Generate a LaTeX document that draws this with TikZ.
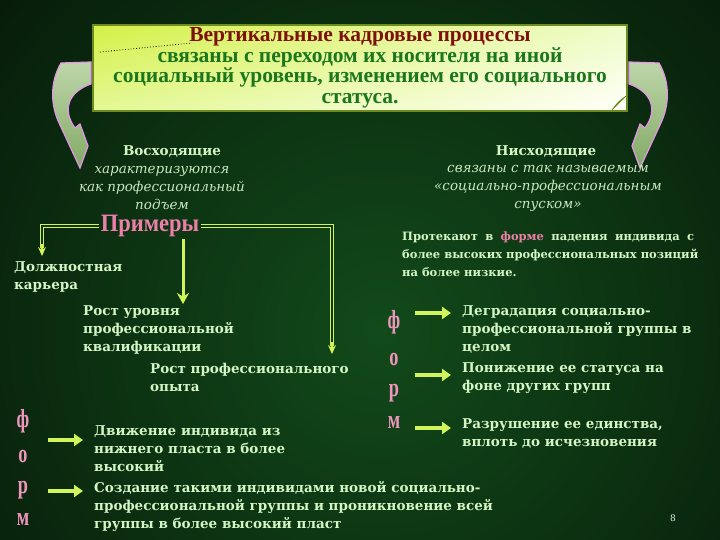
\documentclass[tikz,border=0pt]{standalone}
\usepackage{fontspec}
\usepackage{graphicx}
\setmainfont{DejaVu Serif}
\newfontfamily\ttlfont{Liberation Serif}
\usetikzlibrary{arrows.meta,calc,shadings}
\definecolor{bgmid}{RGB}{18,74,26}
\definecolor{bgline}{RGB}{14,52,18}
\definecolor{txt}{RGB}{212,245,196}
\definecolor{itx}{RGB}{200,232,190}
\definecolor{pinkc}{RGB}{236,128,170}
\definecolor{pinkl}{RGB}{240,150,190}
\definecolor{ylw}{RGB}{208,244,90}
\definecolor{boxborder}{RGB}{108,140,34}
\definecolor{ttlred}{RGB}{128,16,16}
\definecolor{ttlgreen}{RGB}{28,118,28}
\definecolor{arrtop}{RGB}{190,214,170}
\definecolor{arrbot}{RGB}{130,170,100}
\definecolor{arrline}{RGB}{228,150,232}
\definecolor{boxul}{RGB}{212,240,70}
\definecolor{boxur}{RGB}{238,252,200}
\definecolor{boxll}{RGB}{228,248,150}
\definecolor{boxlr}{RGB}{255,255,250}
\definecolor{fold}{RGB}{110,160,40}
\begin{document}
\begin{tikzpicture}[x=1pt,y=-1pt,
  body/.style={font=\bfseries\fontsize{13.5}{18}\selectfont, text=txt, align=left, inner sep=0pt, anchor=north west},
  ital/.style={font=\itshape\fontsize{13.5}{18}\selectfont, text=itx, align=center, inner sep=0pt},
  headtxt/.style={font=\bfseries\fontsize{13.5}{18}\selectfont, text=txt, inner sep=0pt},
  formletter/.style={font=\ttlfont\bfseries\fontsize{26}{26}\selectfont, text=pinkl, inner sep=0pt, anchor=base},
  formarrow/.style={draw=ylw, line width=4pt, -{Triangle[length=9pt,width=12pt]}},
  dbl/.style={draw=ylw, double=bgline, double distance=1.5pt, line width=0.8pt},
  vtip/.style={draw=ylw, line width=1.2pt, -{Stealth[length=9pt,width=8pt]}},
  titlebox/.style={draw=boxborder, line width=2.5pt, upper left=boxul, upper right=boxur, lower left=boxll, lower right=boxlr,
     minimum width=534pt, minimum height=86pt, inner sep=0pt, align=center,
     font=\ttlfont\bfseries\fontsize{21.5}{20.5}\selectfont, text=ttlgreen},
  curvarrow/.pic={\path[draw=arrline, line width=1.2pt, top color=arrtop, bottom color=arrbot]
     (91,62) -- (61,63) .. controls (50,82) and (50,105) .. (60,125) -- (80,168) -- (88,146) -- (80,124) -- (75,128)
     .. controls (62,110) and (68,92) .. (91,84) -- cycle;}
]
\useasboundingbox (0,0) rectangle (720,540);
\fill[black] (0,0) rectangle (720,540);
\begin{scope}
\clip (0,0) rectangle (720,540);
\shade[inner color=bgmid, outer color=black] (380,330) circle[radius=820pt];
\end{scope}

% curved arrows
\pic at (0,0) {curvarrow};
\pic[xscale=-1] at (720,0) {curvarrow};

% title box
\node[titlebox] (title) at (360,68) {{\color{ttlred}Вертикальные кадровые процессы}\\связаны с переходом их носителя на иной\\социальный уровень, изменением его социального\\статуса.};
\fill[fold, draw=boxborder, line width=0.6pt] (626,96) -- (612,110) .. controls (616,104) and (620,100) .. cycle;
\coordinate (dotA) at (100,52);
\coordinate (dotB) at (192,43);
\draw[black, dotted, line width=0.8pt] (dotA) -- (dotB);

% heads
\node[headtxt] (up) at (172,152) {Восходящие};
\node[ital] (upd) at (162,188) {характеризуются\\как профессиональный\\подъем};
\node[headtxt] (down) at (546,152) {Нисходящие};
\node[ital] (downd) at (548,188) {связаны с так называемым\\«социально-профессиональным\\спуском»};

% examples
\node[font=\ttlfont\bfseries\fontsize{25}{25}\selectfont, text=pinkc, inner sep=2pt] (pr) at (150,226) {\scalebox{0.9}[1]{Примеры}};
\coordinate (kA) at (42,256);
\coordinate (kB) at (183,304);
\coordinate (kC) at (332,354);
\draw[dbl] (pr.west) -| ($(kA)+(0,-8)$);
\draw[vtip] ($(kA)+(0,-12)$) -- (kA);
\draw[dbl] (pr.east) -| ($(kC)+(0,-8)$);
\draw[vtip] ($(kC)+(0,-12)$) -- (kC);
\draw[draw=ylw, line width=3pt, -{Stealth[length=11pt,width=12pt]}] (pr.south -| kB) -- (kB);

\node[body] (kar) at (14,261) {Должностная\\карьера};
\node[body] (r1) at (83,305) {Рост уровня\\профессиональной\\квалификации};
\node[body] (r2) at (150,363) {Рост профессионального\\опыта};

% left forms
\node[formletter] (lf1) at (23,427) {\scalebox{0.7}[1]{ф}};
\node[formletter] (lf2) at (23,462) {\scalebox{0.7}[1]{о}};
\node[formletter] (lf3) at (23,493) {\scalebox{0.7}[1]{р}};
\node[formletter] (lf4) at (23,525) {\scalebox{0.7}[1]{м}};
\coordinate (la1) at (48,440); \coordinate (la1e) at (83,440);
\coordinate (la2) at (48,491); \coordinate (la2e) at (83,491);
\draw[formarrow] (la1) -- (la1e);
\draw[formarrow] (la2) -- (la2e);
\node[body] (m1) at (94,425) {Движение индивида из\\нижнего пласта в более\\высокий};
\node[body] (m2) at (94,481) {Создание такими индивидами новой социально-\\профессиональной группы и проникновение всей\\группы в более высокий пласт};

% right side
\node[body, font=\bfseries\fontsize{11.5}{18}\selectfont] (prot) at (402,232) {\makebox[292pt][s]{Протекают в {\color{pinkc}форме} падения индивида с}\\более высоких профессиональных позиций\\на более низкие.};
\node[formletter] (rf1) at (394,328) {\scalebox{0.7}[1]{ф}};
\node[formletter] (rf2) at (394,365) {\scalebox{0.7}[1]{о}};
\node[formletter] (rf3) at (394,396) {\scalebox{0.7}[1]{р}};
\node[formletter] (rf4) at (394,428) {\scalebox{0.7}[1]{м}};
\coordinate (ra1) at (415,313); \coordinate (ra1e) at (451,313);
\coordinate (ra2) at (415,375); \coordinate (ra2e) at (451,375);
\coordinate (ra3) at (415,428); \coordinate (ra3e) at (451,428);
\draw[formarrow] (ra1) -- (ra1e);
\draw[formarrow] (ra2) -- (ra2e);
\draw[formarrow] (ra3) -- (ra3e);
\node[body] (d1) at (462,305) {Деградация социально-\\профессиональной группы в\\целом};
\node[body] (d2) at (462,362) {Понижение ее статуса на\\фоне других групп};
\node[body] (d3) at (462,418) {Разрушение ее единства,\\вплоть до исчезновения};

\node[text=white!85!gray, font=\fontsize{9}{9}\selectfont, inner sep=0pt] (pg) at (673,518) {8};
\end{tikzpicture}
\end{document}
